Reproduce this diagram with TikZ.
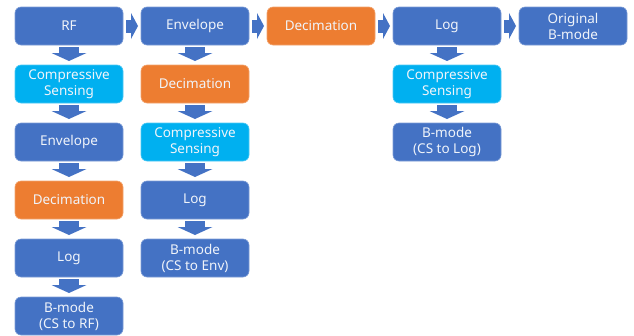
\documentclass[tikz,border=0pt]{standalone}
\usepackage{fontspec}
\setmainfont{Noto Sans}
\usetikzlibrary{arrows.meta, positioning}
\definecolor{pblue}{HTML}{4472C4}
\definecolor{porange}{HTML}{ED7D31}
\definecolor{pcyan}{HTML}{00B0F0}

\begin{document}
\begin{tikzpicture}[x=1pt, y=1pt,
	node distance=20pt and 18pt,
	box/.style={rectangle, rounded corners=6pt, minimum width=108pt, minimum height=38pt, inner sep=0pt, outer sep=0pt, align=center, draw=pblue!70!white, line width=0.6pt, fill=pblue, text=white!92!pblue, font=\fontsize{13.5}{16}\selectfont},
	cs/.style={box, draw=pcyan!70!white, fill=pcyan},
	deci/.style={box, draw=porange!70!white, fill=porange},
	darrow/.style={draw=pblue, line width=20pt, -{Triangle[length=8pt, width=35pt, line width=0pt]}, shorten <=2pt, shorten >=4pt},
	rarrow/.style={draw=pblue, line width=13pt, -{Triangle[length=7pt, width=26pt, line width=0pt]}, shorten <=3pt, shorten >=3pt}
	]
	\useasboundingbox (0,0) rectangle (634,-335);
	% top row
	\node (rf) [box] at (69,-26) {RF};
	\node (env) [box, right=of rf] {Envelope};
	\node (deci) [deci, right=of env] {Decimation};
	\node (log) [box, right=of deci] {Log};
	\node (orig) [box, right=of log] {Original\\B-mode};
	
	% CS to RF
	\node (cs1) [cs, below=of rf] {Compressive\\Sensing};
	\node (env1) [box, below=of cs1] {Envelope};
	\node (deci1) [deci, below=of env1] {Decimation};
	\node (log1) [box, below=of deci1] {Log};
	\node (bm1) [box, below=of log1] {B-mode\\(CS to RF)};
	
	% CS to Env
	\node (deci2) [deci, below=of env] {Decimation};
	\node (cs2) [cs, below=of deci2] {Compressive\\Sensing};
	\node (log2) [box, below=of cs2] {Log};
	\node (bm2) [box, below=of log2] {B-mode\\(CS to Env)};
	
	% CS to Log
	\node (cs4) [cs, below=of log] {Compressive\\Sensing};
	\node (bm4) [box, below=of cs4] {B-mode\\(CS to Log)};
	
	\draw [rarrow] (rf) -- (env);
	\draw [rarrow] (env) -- (deci);
	\draw [rarrow] (deci) -- (log);
	\draw [rarrow] (log) -- (orig);
	
	\draw [darrow] (rf) -- (cs1);
	\draw [darrow] (cs1) -- (env1);
	\draw [darrow] (env1) -- (deci1);
	\draw [darrow] (deci1) -- (log1);
	\draw [darrow] (log1) -- (bm1);
	
	\draw [darrow] (env) -- (deci2);
	\draw [darrow] (deci2) -- (cs2);
	\draw [darrow] (cs2) -- (log2);
	\draw [darrow] (log2) -- (bm2);
	
	\draw [darrow] (log) -- (cs4);
	\draw [darrow] (cs4) -- (bm4);
\end{tikzpicture}
\end{document}
